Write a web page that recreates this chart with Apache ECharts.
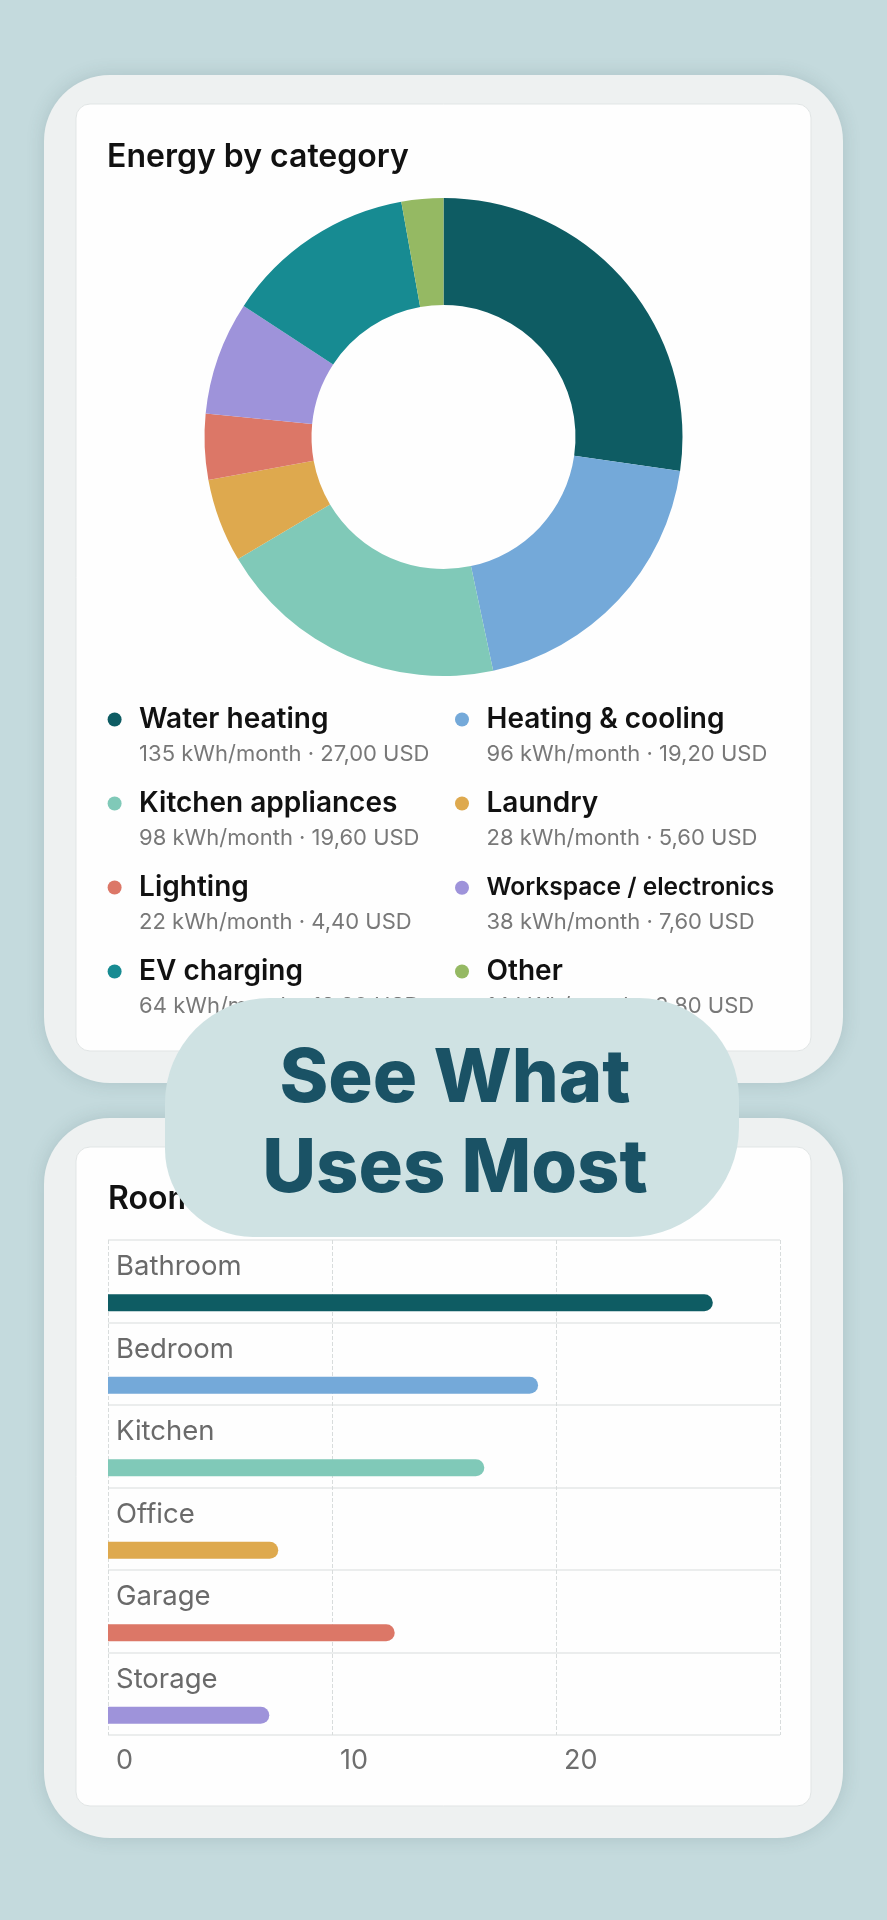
<!DOCTYPE html>
<html>
<head>
<meta charset="utf-8">
<script src="https://cdn.jsdelivr.net/npm/echarts@6/dist/echarts.min.js"></script>
<style>
html,body{margin:0;padding:0;background:#c4dadd;}
#main{width:887px;height:1920px;}
</style>
</head>
<body>
<div id="main"></div>
<script>
// 类别能耗（kWh/月）与费用
var categories = ['Water heating', 'Heating & cooling', 'Kitchen appliances', 'Laundry', 'Lighting', 'Workspace / electronics', 'EV charging', 'Other'];
var kwhValues = [135, 96, 98, 28, 22, 38, 64, 14];
var usdValues = ['27,00', '19,20', '19,60', '5,60', '4,40', '7,60', '12,80', '2,80'];
var catColors = ['#0e5c63', '#74a9d9', '#80c9b8', '#dea94e', '#dc7767', '#9e93da', '#178b92', '#95b963'];

// 房间用量
var rooms = ['Bathroom', 'Bedroom', 'Kitchen', 'Office', 'Garage', 'Storage'];
var roomValues = [27.0, 19.2, 16.8, 7.6, 12.8, 7.2];
var roomColors = ['#0e5c63', '#74a9d9', '#80c9b8', '#dea94e', '#dc7767', '#9e93da'];
var xTicks = {min: 0, max: 30, interval: 10};

var font = 'Inter, "Noto Sans", sans-serif';
var myChart = echarts.init(document.getElementById('main'));

var pieData = categories.map(function (name, i) {
    return {name: name, value: kwhValues[i], itemStyle: {color: catColors[i]}};
});
var barData = roomValues.map(function (v, i) {
    return {value: v, itemStyle: {color: roomColors[i]}};
});

function card(y, h) {
    return [{
        type: 'rect', z: -2,
        shape: {x: 44, y: y, width: 799, height: h, r: 66},
        style: {fill: '#eef1f1', shadowBlur: 18, shadowColor: 'rgba(60,90,95,0.18)'}
    }, {
        type: 'rect', z: -1,
        shape: {x: 76, y: y + 29, width: 735, height: h - 61, r: 14},
        style: {fill: '#fefefe', stroke: '#e1e5e5', lineWidth: 1}
    }];
}

// 图例：名称每项一个图例（两列四行），数值行每列一个竖排图例
var colLeft = [107.6, 455];
var rowPitch = 84;
var nameLegends = categories.map(function (name, i) {
    var size = name.length > 20 ? 24.5 : 28;   // 长名称字号略小
    return {
        data: [name], left: colLeft[i % 2], top: 719.5 + Math.floor(i / 2) * rowPitch - size / 2, padding: 0,
        itemWidth: 39, itemHeight: 14, icon: 'circle', selectedMode: false,
        textStyle: {fontSize: size, fontWeight: 600, color: '#111', fontFamily: font}
    };
});
var subLegends = [0, 1].map(function (col) {
    return {
        data: categories.filter(function (n, i) { return i % 2 === col; }),
        orient: 'vertical', left: colLeft[col], top: 743, padding: 0,
        itemGap: rowPitch - 22, itemWidth: 39, itemHeight: 14, icon: 'circle', selectedMode: false,
        itemStyle: {opacity: 0},
        formatter: function (name) {
            var i = categories.indexOf(name);
            return kwhValues[i] + ' kWh/month · ' + usdValues[i] + ' USD';
        },
        textStyle: {fontSize: 22, color: '#787878', fontFamily: font}
    };
});

var option = {
    animation: false,
    backgroundColor: '#c4dadd',
    textStyle: {fontFamily: font},
    title: [{
        text: 'Energy by category', left: 107, top: 139, padding: 0,
        textStyle: {fontSize: 32, fontWeight: 600, color: '#111', lineHeight: 36, fontFamily: font}
    }, {
        text: 'Rooms', left: 108, top: 1181, padding: 0,
        textStyle: {fontSize: 32, fontWeight: 600, color: '#111', lineHeight: 36, fontFamily: font}
    }],
    legend: nameLegends.concat(subLegends),
    grid: [
        {left: 108, right: 107, top: 1240, bottom: 185},
        {left: 108, right: 107, top: 1261.5, bottom: 163.5}
    ],
    xAxis: [{
        gridIndex: 0, type: 'value', min: xTicks.min, max: xTicks.max, interval: xTicks.interval,
        axisLine: {show: false}, axisTick: {show: false},
        splitLine: {lineStyle: {type: 'dashed', color: '#d8dcdc', width: 1}},
        axisLabel: {showMaxLabel: false, align: 'left', margin: 12, padding: [0, 0, 0, 8],
            fontSize: 27, color: '#6e6e6e', fontFamily: font}
    }, {
        gridIndex: 1, type: 'value', min: xTicks.min, max: xTicks.max, show: false
    }],
    yAxis: [{
        gridIndex: 0, type: 'category', data: rooms, inverse: true,
        axisLine: {show: false}, axisTick: {show: false},
        splitLine: {show: true, lineStyle: {color: '#e4e7e7', width: 1.5}},
        axisLabel: {inside: true, margin: 8, fontSize: 27.5, color: '#6a6a6a',
            verticalAlign: 'bottom', lineHeight: 29, fontFamily: font}
    }, {
        gridIndex: 1, type: 'category', data: rooms, inverse: true, show: false
    }],
    series: [{
        type: 'pie',
        silent: true,
        center: [443.5, 437],
        radius: [132, 239],
        startAngle: 90,
        clockwise: true,
        label: {show: false},
        labelLine: {show: false},
        itemStyle: {borderWidth: 0},
        data: pieData
    }, {
        type: 'bar',
        name: 'Rooms',
        xAxisIndex: 1,
        yAxisIndex: 1,
        barWidth: 17,
        silent: true,
        data: barData,
        itemStyle: {borderRadius: [0, 9, 9, 0]}
    }],
    graphic: card(75, 1008).concat(card(1118, 720)).concat([{
        type: 'rect', z: 100,
        shape: {x: 165, y: 998, width: 574, height: 239, r: [105, 100, 110, 88]},
        style: {fill: '#cfe2e3'}
    }, {
        type: 'text', z: 101,
        x: 455, y: 1125,
        style: {
            text: 'See What\nUses Most',
            fill: '#1a5265',
            font: '800 74px ' + font,
            lineHeight: 90,
            align: 'center',
            verticalAlign: 'middle'
        }
    }])
};
myChart.setOption(option);
</script>
</body>
</html>
